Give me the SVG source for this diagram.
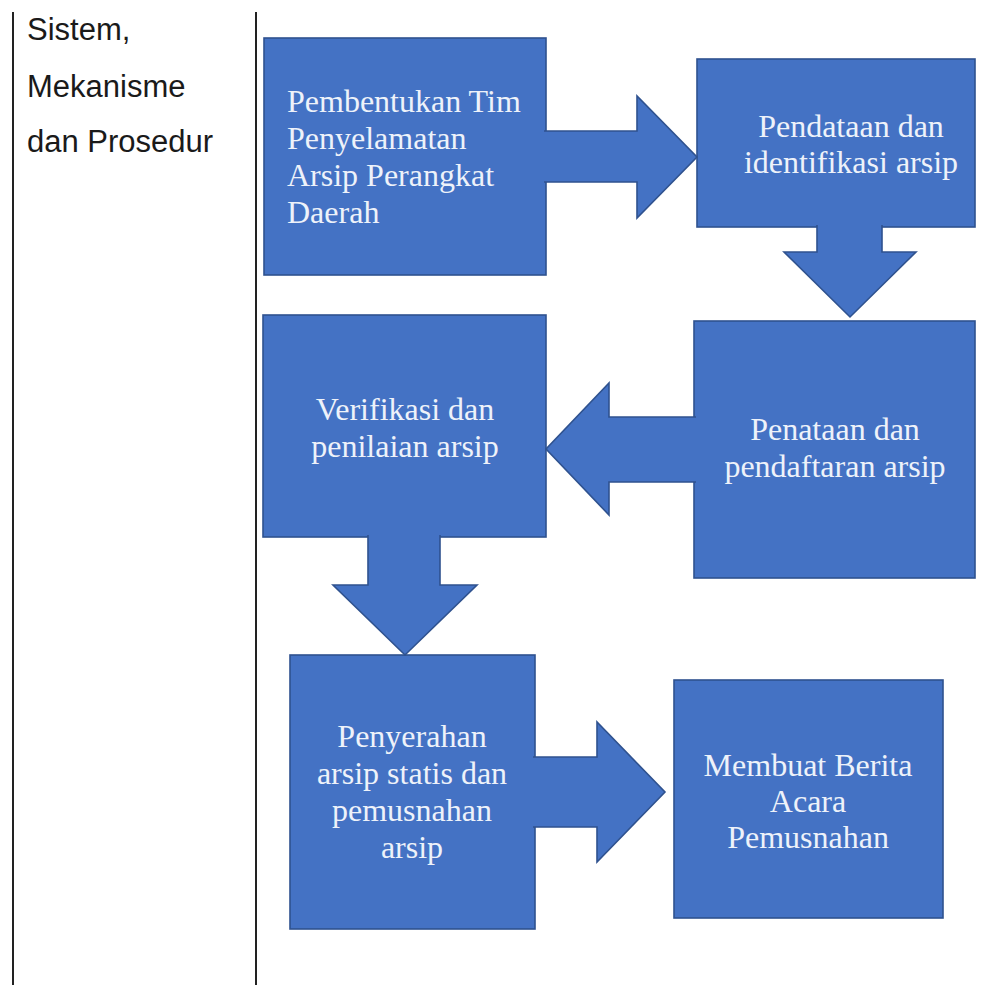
<svg xmlns="http://www.w3.org/2000/svg" width="990" height="985" viewBox="0 0 990 985">
<style>
.box{fill:#4472C4;stroke:#2F528F;stroke-width:1.6}
.arr{fill:#4472C4;stroke:#2F528F;stroke-width:1.6;stroke-linejoin:miter}
.t{font-family:"Liberation Serif","Times New Roman",serif;font-size:32px;fill:#EEF2FA}
.c{text-anchor:middle}
.side{font-family:"Liberation Sans",Arial,sans-serif;font-size:31px;fill:#1a1a1a}
.rule{stroke:#222;stroke-width:2}
</style>
<rect width="990" height="985" fill="#fff"/>
<g id="frame">
<line class="rule" x1="13" y1="12" x2="13" y2="985"/>
<line class="rule" x1="256" y1="12" x2="256" y2="985"/>
<text class="side" x="27" y="40">Sistem,</text>
<text class="side" x="27" y="97">Mekanisme</text>
<text class="side" x="27" y="152">dan Prosedur</text>
</g>
<g id="n1">
<rect class="box" x="264" y="38" width="282" height="237"/>
<text class="t" x="287" y="112">Pembentukan Tim</text>
<text class="t" x="287" y="149">Penyelamatan</text>
<text class="t" x="287" y="186">Arsip Perangkat</text>
<text class="t" x="287" y="223">Daerah</text>
</g>
<g id="n2">
<rect class="box" x="697" y="59" width="278" height="168"/>
<text class="t c" x="851" y="137">Pendataan dan</text>
<text class="t c" x="851" y="173">identifikasi arsip</text>
</g>
<g id="n3">
<rect class="box" x="694" y="321" width="281" height="257"/>
<text class="t c" x="835" y="440">Penataan dan</text>
<text class="t c" x="835" y="477">pendaftaran arsip</text>
</g>
<g id="n4">
<rect class="box" x="263" y="315" width="283" height="222"/>
<text class="t c" x="405" y="420">Verifikasi dan</text>
<text class="t c" x="405" y="457">penilaian arsip</text>
</g>
<g id="n5">
<rect class="box" x="290" y="655" width="245" height="274"/>
<text class="t c" x="412" y="747">Penyerahan</text>
<text class="t c" x="412" y="784">arsip statis dan</text>
<text class="t c" x="412" y="821">pemusnahan</text>
<text class="t c" x="412" y="858">arsip</text>
</g>
<g id="n6">
<rect class="box" x="674" y="680" width="269" height="238"/>
<text class="t c" x="808" y="776">Membuat Berita</text>
<text class="t c" x="808" y="812">Acara</text>
<text class="t c" x="808" y="848">Pemusnahan</text>
</g>
<g id="connectors">
<path class="arr" d="M544,131 H637 V96 L697,157 L637,218 V182 H544"/>
<path class="arr" d="M817,225 V252 H784 L850,317 L916,252 H882 V225"/>
<path class="arr" d="M696,417 H609 V383 L546,449 L609,515 V482 H696"/>
<path class="arr" d="M368,535 V585 H333 L405,655 L477,585 H440 V535"/>
<path class="arr" d="M533,757 H597 V722 L665,792 L597,862 V827 H533"/>
</g>
</svg>
